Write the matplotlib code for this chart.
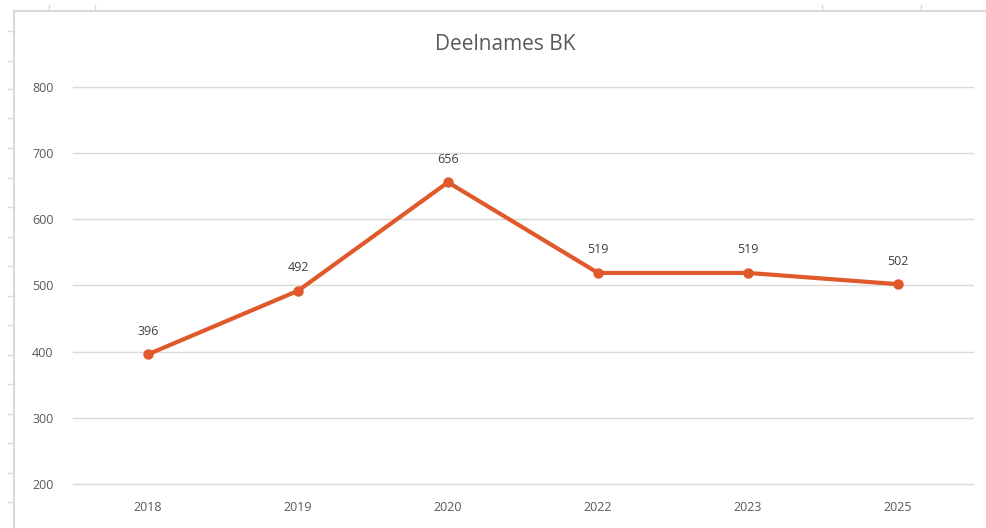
import matplotlib
matplotlib.use("Agg")
import matplotlib.pyplot as plt
from matplotlib.lines import Line2D

years = ["2018", "2019", "2020", "2022", "2023", "2025"]
deelnames = [396, 492, 656, 519, 519, 502]
yticks = [200, 300, 400, 500, 600, 700, 800]

W, H = 987, 528
fig = plt.figure(figsize=(W / 100, H / 100), dpi=100)
plt.rcParams["font.family"] = ["Open Sans", "DejaVu Sans"]

# spreadsheet bits around the chart frame
grey = "#d9d9d9"
fig.add_artist(Line2D([14 / W, 14 / W], [0, 1 - 11 / H], color=grey, lw=1.5))
fig.add_artist(Line2D([14 / W, 1], [1 - 11 / H, 1 - 11 / H], color=grey, lw=1.5))
for yy in [31, 61, 89, 118, 148, 178, 207, 237, 266, 296, 325, 355, 384, 414, 443, 473, 502]:
    fig.add_artist(Line2D([8 / W, 14 / W], [1 - yy / H, 1 - yy / H], color=grey, lw=1))
for xx in [49, 95, 822, 921]:
    fig.add_artist(Line2D([xx / W, xx / W], [1 - 5 / H, 1 - 11 / H], color=grey, lw=1))

ax = fig.add_axes([73 / W, 1 - 484 / H, 900 / W, (484 - 87) / H])
x = range(len(years))
color = "#e0592a"
ax.plot(x, deelnames, color=color, lw=3, marker="o", ms=6.5, solid_capstyle="round", zorder=3)
for xi, v in zip(x, deelnames):
    ax.annotate(str(v), (xi, v), xytext=(0, 12), textcoords="offset points",
                ha="center", va="bottom", fontsize=9, color="#404040")

ax.set_xlim(-0.5, len(years) - 0.5)
ax.set_ylim(200, 800)
ax.set_yticks(yticks)
ax.set_xticks(list(x))
ax.set_xticklabels(years)
ax.grid(axis="y", color=grey, lw=1)
for gl in ax.get_ygridlines():
    gl.set_clip_on(False)
ax.set_axisbelow(True)
for s in ax.spines.values():
    s.set_visible(False)
ax.tick_params(length=0, labelsize=9, labelcolor="#595959")
ax.tick_params(axis="y", pad=14)
ax.tick_params(axis="x", pad=12)

fig.text(505 / W, 1 - 45 / H, "Deelnames BK", ha="center", va="center",
         fontsize=15, color="#595959")

fig.savefig("out.png", dpi=100)
